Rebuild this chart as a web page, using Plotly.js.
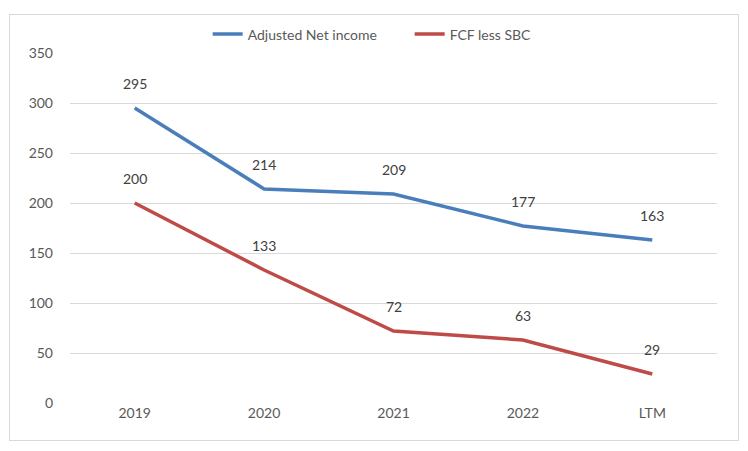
<!DOCTYPE html>
<html>
<head>
<meta charset="utf-8">
<script src="https://cdn.plot.ly/plotly-3.0.1.min.js"></script>
<style>
html,body{margin:0;padding:0;background:#fff;}
#frame{position:absolute;left:9px;top:14px;width:728px;height:425px;border:1px solid #d9d9d9;}
#chart{position:absolute;left:0;top:0;width:748px;height:451px;}
</style>
</head>
<body>
<div id="frame"></div>
<div id="chart"></div>
<script>
const categories = ["2019", "2020", "2021", "2022", "LTM"];
const adjustedNetIncome = [295, 214, 209, 177, 163];
const fcfLessSbc = [200, 133, 72, 63, 29];
const seriesNames = ["Adjusted Net income", "FCF less SBC"];
const yTicks = [0, 50, 100, 150, 200, 250, 300, 350];

const FONT = "Lato, 'Open Sans', sans-serif";
const blue = "#4a7ebb";
const red = "#be4b48";

const traces = [
  {x: categories, y: adjustedNetIncome, name: seriesNames[0], type: "scatter", mode: "lines",
   line: {color: blue, width: 3.5}},
  {x: categories, y: fcfLessSbc, name: seriesNames[1], type: "scatter", mode: "lines",
   line: {color: red, width: 3.5}}
];

const annotations = [];
[adjustedNetIncome, fcfLessSbc].forEach(series => {
  series.forEach((v, i) => {
    annotations.push({x: i, y: v, xref: "x", yref: "y", text: String(v),
      showarrow: false, yshift: 25, font: {family: FONT, size: 14, color: "#404040"}});
  });
});

const layout = {
  width: 748, height: 451,
  margin: {l: 70, r: 31, t: 53, b: 48},
  paper_bgcolor: "rgba(0,0,0,0)", plot_bgcolor: "rgba(0,0,0,0)",
  font: {family: FONT, size: 14, color: "#595959"},
  showlegend: true,
  legend: {orientation: "h", x: 0.525, xanchor: "center", y: 1.053, yanchor: "middle",
    font: {family: FONT, size: 14, color: "#595959"}, itemwidth: 30, entrywidth: 157, tracegroupgap: 0},
  xaxis: {type: "category", range: [-0.5, categories.length - 0.5], autorange: false,
    showgrid: false, zeroline: false, showline: false, ticks: "",
    tickfont: {family: FONT, size: 14, color: "#595959"}},
  yaxis: {range: [0, 350], autorange: false, tickvals: yTicks, showgrid: true, gridcolor: "#d9d9d9", gridwidth: 1,
    zeroline: false, showline: false, ticks: "", ticklabelstandoff: 16,
    tickfont: {family: FONT, size: 14, color: "#595959"}},
  annotations: annotations
};

Plotly.newPlot("chart", traces, layout, {displayModeBar: false, staticPlot: true});
</script>
</body>
</html>
